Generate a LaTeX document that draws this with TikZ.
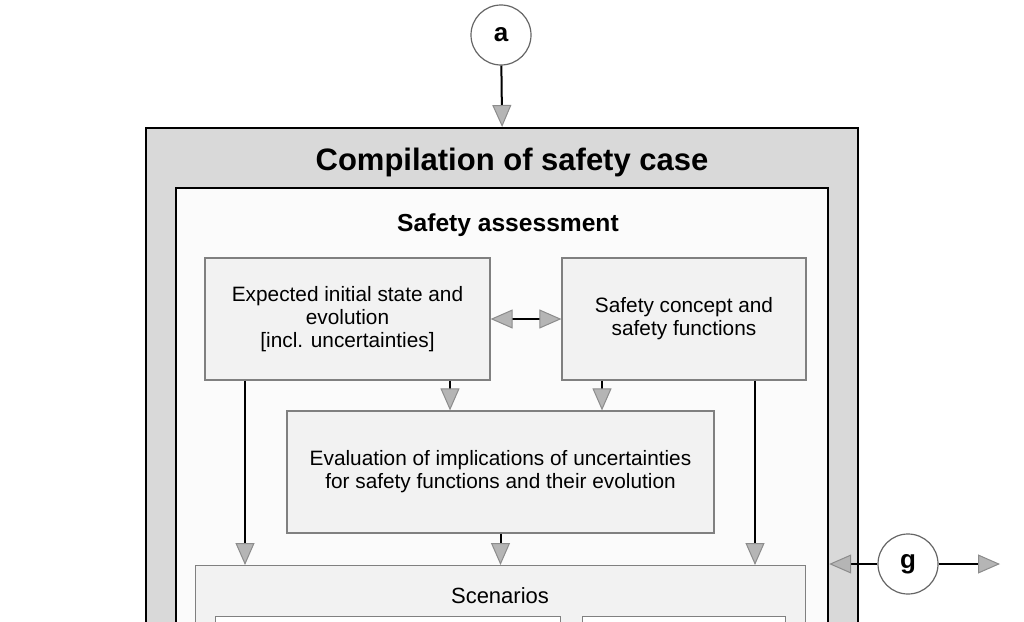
\documentclass[tikz,border=0pt]{standalone}
\usepackage{fontspec}
\setmainfont{Liberation Sans}
\usetikzlibrary{arrows.meta,positioning}
\definecolor{framegray}{HTML}{D9D9D9}
\definecolor{boxgray}{HTML}{F2F2F2}
\definecolor{innergray}{HTML}{FBFBFB}
\definecolor{tipgray}{HTML}{B5B5B5}
\tikzstyle{frame}=[draw=black,line width=2.2pt,inner sep=0pt]
\tikzstyle{stepbox}=[draw=black!50,fill=boxgray,line width=1.2pt,align=center,inner sep=0pt,font=\fontsize{20.8}{23}\selectfont]
\tikzstyle{subbox}=[draw=black!50,fill=white,line width=1.2pt,inner sep=0pt]
\tikzstyle{link}=[draw=black!60,fill=white,circle,line width=1.2pt,minimum size=60pt,inner sep=0pt,font=\bfseries\fontsize{26}{28}\selectfont]
\tikzstyle{flow}=[draw,line width=2pt,-{Triangle[length=22pt,width=19pt,fill=tipgray,color=black!45,line width=1pt]}]
\tikzstyle{bothflow}=[draw,line width=2pt,{Triangle[length=22pt,width=19pt,fill=tipgray,color=black!45,line width=1pt]}-{Triangle[length=22pt,width=19pt,fill=tipgray,color=black!45,line width=1pt]}]
\tikzstyle{heading}=[font=\bfseries\fontsize{24.6}{28}\selectfont]

\begin{document}
\begin{tikzpicture}[x=1pt,y=-1pt]
    \useasboundingbox (0,0) rectangle (1024,621);
    \clip (0,0) rectangle (1024,621);

    % frames
    \node[frame,fill=framegray,anchor=north west,minimum width=712pt,minimum height=700pt] (case) at (145,127) {};
    \node[frame,fill=innergray,anchor=north west,minimum width=652pt,minimum height=700pt] (assess) at (175,187) {};
    \node[font=\bfseries\fontsize{31}{34}\selectfont] (casetitle) at (512,162) {Compilation of safety case};
    \node[heading] (assesstitle) at (508,225) {Safety assessment};

    % boxes
    \node[stepbox,minimum width=285pt,minimum height=122pt] (expected) at (347.5,319)
        {Expected initial state and\\evolution\\{}[incl. uncertainties]};
    \node[stepbox,minimum width=244pt,minimum height=122pt] (concept) at (684,319)
        {Safety concept and\\safety functions};
    \node[stepbox,minimum width=427pt,minimum height=122pt] (evaluation) at (500.5,472)
        {Evaluation of implications of uncertainties\\for safety functions and their evolution};
    \node[stepbox,anchor=north west,minimum width=610pt,minimum height=300pt] (scenarios) at (195,565) {};
    \node[font=\fontsize{22}{24}\selectfont] (scentitle) at (500,596) {Scenarios};
    \node[subbox,anchor=north west,minimum width=345pt,minimum height=100pt] (scenleft) at (215,616) {};
    \node[subbox,anchor=north west,minimum width=203pt,minimum height=100pt] (scenright) at (582,616) {};

    % links
    \node[link] (a) at (501,35) {a};
    \node[link] (g) at (908,564) {g};
    \coordinate (gout) at (1000,564);

    % connectors
    \path[flow] (a) -- (case.north);
    \path[bothflow] (expected) -- (concept);
    \path[flow] (expected.south -| 450,0) -- (evaluation.north -| 450,0);
    \path[flow] (concept.south -| 602,0) -- (evaluation.north -| 602,0);
    \path[flow] (expected.south -| 245,0) -- (scenarios.north -| 245,0);
    \path[flow] (concept.south -| 755,0) -- (scenarios.north -| 755,0);
    \path[flow] (evaluation) -- (scenarios.north -| evaluation);
    \path[flow] (g) -- (assess.east |- g);
    \path[flow] (g) -- (gout);
\end{tikzpicture}
\end{document}
